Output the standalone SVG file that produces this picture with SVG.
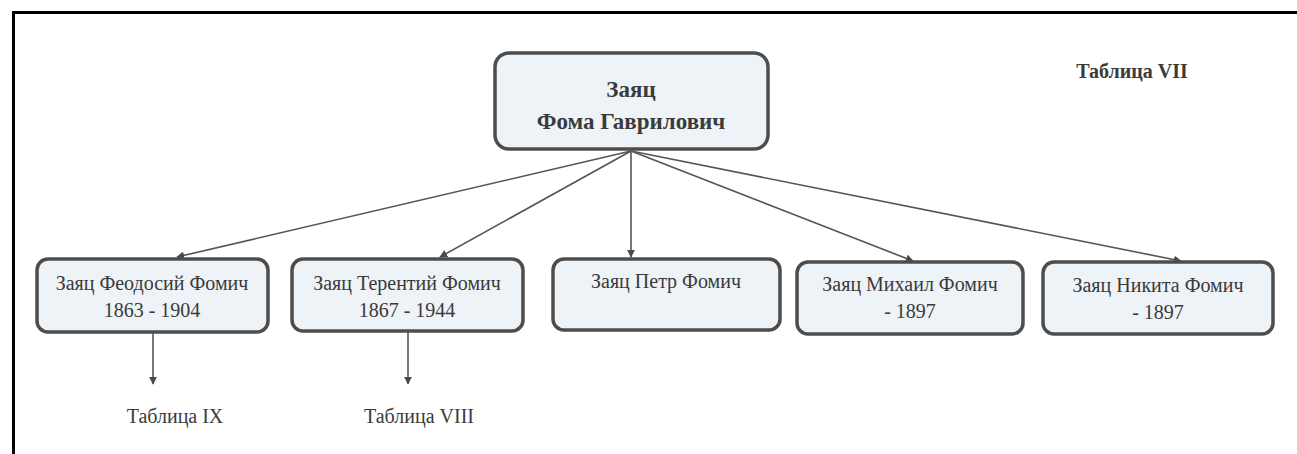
<svg xmlns="http://www.w3.org/2000/svg" width="1297" height="454" viewBox="0 0 1297 454">
<defs>
<marker id="ah" viewBox="0 0 10 10" refX="9" refY="5" markerWidth="8" markerHeight="8" orient="auto" markerUnits="userSpaceOnUse">
<path d="M0,0 L10,5 L0,10 z" fill="#4a4a4a"/>
</marker>
<style>
.box{fill:#eef3f7;stroke:#4d4d4d;stroke-width:3.5}
.c{stroke:#555;stroke-width:1.6;fill:none;marker-end:url(#ah)}
text{font-family:"Liberation Serif",serif;fill:#3a3a3a;text-anchor:middle}
.t{font-size:20px}
.b{font-size:23px;font-weight:bold}
</style>
</defs>
<rect width="1297" height="454" fill="#ffffff"/>
<path d="M13.5,454 V12.5 H1297" fill="none" stroke="#000" stroke-width="3"/>
<g id="connectors">
<line class="c" x1="631" y1="151" x2="177" y2="257"/>
<line class="c" x1="631" y1="151" x2="440" y2="257"/>
<line class="c" x1="631" y1="151" x2="631" y2="257"/>
<line class="c" x1="631" y1="151" x2="913" y2="261"/>
<line class="c" x1="631" y1="151" x2="1181" y2="261"/>
<line class="c" x1="153" y1="333" x2="153" y2="384"/>
<line class="c" x1="408" y1="332" x2="408" y2="384"/>
</g>
<g id="root">
<rect class="box" x="495" y="53" width="273" height="96" rx="14"/>
<text class="b" x="631" y="97">Заяц</text>
<text class="b" x="631" y="129">Фома Гаврилович</text>
</g>
<g id="feodosiy">
<rect class="box" x="37" y="259" width="231" height="73" rx="11"/>
<text class="t" x="152" y="290">Заяц Феодосий Фомич</text>
<text class="t" x="152" y="317">1863 - 1904</text>
</g>
<g id="terentiy">
<rect class="box" x="292" y="259" width="231" height="72" rx="11"/>
<text class="t" x="407" y="290">Заяц Терентий Фомич</text>
<text class="t" x="407" y="317">1867 - 1944</text>
</g>
<g id="petr">
<rect class="box" x="553" y="259" width="227" height="71" rx="11"/>
<text class="t" x="666" y="288">Заяц Петр Фомич</text>
</g>
<g id="mikhail">
<rect class="box" x="797" y="262" width="226" height="72" rx="11"/>
<text class="t" x="910" y="291">Заяц Михаил Фомич</text>
<text class="t" x="910" y="318">- 1897</text>
</g>
<g id="nikita">
<rect class="box" x="1043" y="262" width="230" height="72" rx="11"/>
<text class="t" x="1158" y="292">Заяц Никита Фомич</text>
<text class="t" x="1158" y="319">- 1897</text>
</g>
<g id="labels">
<text class="t" x="175" y="423">Таблица IX</text>
<text class="t" x="419" y="423">Таблица VIII</text>
<text class="b" x="1132" y="78" style="font-size:20px">Таблица VII</text>
</g>
</svg>
